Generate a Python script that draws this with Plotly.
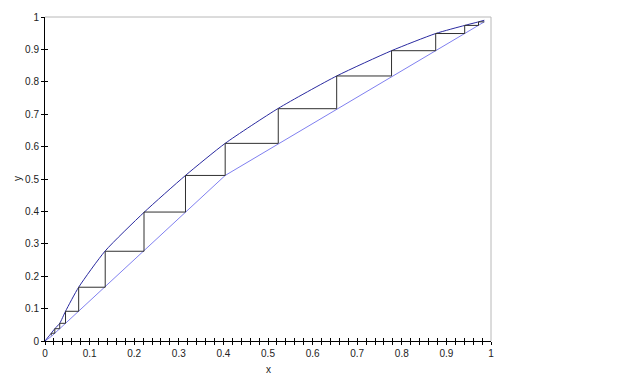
import plotly.graph_objects as go

# Equilibrium curve
eq_x = [0.0, 0.014, 0.022, 0.033, 0.046, 0.0755, 0.135, 0.222, 0.315, 0.404,
        0.523, 0.654, 0.777, 0.876, 0.941, 0.972, 0.985]
eq_y = [0.0, 0.024, 0.038, 0.0546, 0.0917, 0.166, 0.278, 0.397, 0.511, 0.610,
        0.718, 0.818, 0.896, 0.949, 0.974, 0.985, 0.99]

# Operating lines (stripping + rectifying)
op_x = [0.0, 0.015, 0.404, 0.985]
op_y = [0.0, 0.015, 0.511, 0.985]

# Stage stepping (staircase vertices)
stair_x = [0.985, 0.972, 0.972, 0.941, 0.941, 0.876, 0.876, 0.777, 0.777, 0.654,
           0.654, 0.523, 0.523, 0.404, 0.404, 0.315, 0.315, 0.222, 0.222, 0.135,
           0.135, 0.0755, 0.0755, 0.046, 0.046, 0.033, 0.033, 0.022, 0.022, 0.014, 0.014]
stair_y = [0.985, 0.985, 0.974, 0.974, 0.949, 0.949, 0.896, 0.896, 0.818, 0.818,
           0.717, 0.717, 0.610, 0.610, 0.511, 0.511, 0.398, 0.398, 0.277, 0.277,
           0.166, 0.166, 0.0917, 0.0917, 0.0546, 0.0546, 0.038, 0.038, 0.024, 0.024, 0.017]

fig = go.Figure()
fig.add_trace(go.Scatter(x=op_x, y=op_y, mode="lines",
                         line=dict(color="#8080f0", width=1), hoverinfo="skip"))
fig.add_trace(go.Scatter(x=eq_x, y=eq_y, mode="lines",
                         line=dict(color="#2a2aa0", width=1, shape="spline", smoothing=0.6),
                         hoverinfo="skip"))
fig.add_trace(go.Scatter(x=stair_x, y=stair_y, mode="lines",
                         line=dict(color="#303030", width=1), hoverinfo="skip"))

font = dict(family="Liberation Sans, Arial, sans-serif", size=10, color="#222222")

fig.update_layout(
    width=624, height=387,
    margin=dict(l=37, r=141, t=9, b=54, autoexpand=False),
    paper_bgcolor="white", plot_bgcolor="white",
    showlegend=False,
    font=font,
    xaxis=dict(range=[0, 1], tickmode="linear", tick0=0, dtick=0.1, automargin=False,
               showgrid=False, zeroline=False, showline=True, linecolor="black",
               linewidth=1, ticks="outside", ticklen=3, tickcolor="black",
               minor=dict(dtick=0.02, ticks="outside", ticklen=3, tickcolor="black"),
               tickformat="~g"),
    yaxis=dict(range=[0, 1], tickmode="linear", tick0=0, dtick=0.1, automargin=False,
               showgrid=False, zeroline=False, showline=True, linecolor="black",
               linewidth=1, ticks="outside", ticklen=3, tickcolor="black",
               tickformat="~g"),
    xaxis2=dict(range=[0, 1], overlaying="x", matches="x", showticklabels=False,
                automargin=False,
                tickmode="linear", tick0=0, dtick=0.1, ticks="inside", ticklen=3,
                tickcolor="black", showgrid=False, zeroline=False,
                minor=dict(dtick=0.02, ticks="inside", ticklen=3, tickcolor="black")),
    yaxis2=dict(range=[0, 1], overlaying="y", matches="y", showticklabels=False,
                automargin=False,
                tickmode="linear", tick0=0, dtick=0.1, ticks="inside", ticklen=3,
                tickcolor="black", showgrid=False, zeroline=False),
)
# invisible trace to activate secondary axes
fig.add_trace(go.Scatter(x=[0], y=[0], xaxis="x2", yaxis="y2", mode="markers",
                         marker=dict(opacity=0), hoverinfo="skip"))

# axis titles
fig.add_annotation(text="x", xref="paper", yref="paper", x=0.5, y=0,
                   xanchor="center", yanchor="middle",
                   yshift=-28, showarrow=False, font=dict(size=10, color="#222222"))
fig.add_annotation(text="y", xref="paper", yref="paper", x=0, y=0.5,
                   xanchor="center", yanchor="middle",
                   xshift=-28, showarrow=False, textangle=-90,
                   font=dict(size=10, color="#222222"))

# frame: top and right lines gray
fig.add_shape(type="line", xref="paper", yref="paper", x0=0, x1=1, y0=1, y1=1,
              line=dict(color="#b8b8b8", width=1))
fig.add_shape(type="line", xref="paper", yref="paper", x0=1, x1=1, y0=0, y1=1,
              line=dict(color="#b8b8b8", width=1))

fig.write_html("out.html")
